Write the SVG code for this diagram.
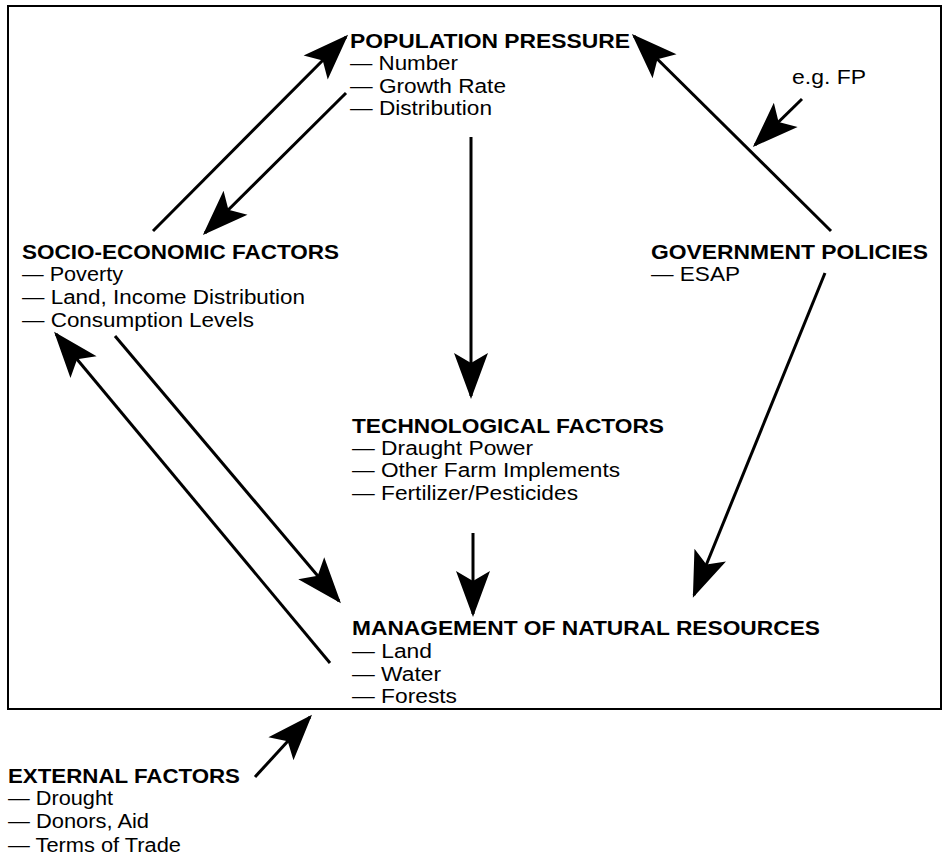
<svg xmlns="http://www.w3.org/2000/svg" width="943" height="857" viewBox="0 0 943 857">
<defs>
<marker id="ah" markerUnits="userSpaceOnUse" orient="auto" viewBox="-50 -20 56 40" markerWidth="56" markerHeight="40" refX="0" refY="0">
<path d="M3,0 L-43,-17 L-33,0 L-43,17 Z" fill="#000"/>
</marker>
</defs>
<style>
text{font-family:"Liberation Sans",Arial,sans-serif;fill:#000}
.h{font-size:21px;font-weight:bold}
.b{font-size:20px}
.c line{stroke:#000;stroke-width:3;marker-end:url(#ah)}
</style>
<rect width="943" height="857" fill="#fff"/>
<rect x="8" y="6" width="933" height="703" fill="none" stroke="#000" stroke-width="2"/>
<g id="population">
<text class="h" x="350" y="48" textLength="280" lengthAdjust="spacingAndGlyphs">POPULATION PRESSURE</text>
<text class="b" x="350" y="70" textLength="108" lengthAdjust="spacingAndGlyphs">— Number</text>
<text class="b" x="350" y="93" textLength="156" lengthAdjust="spacingAndGlyphs">— Growth Rate</text>
<text class="b" x="350" y="115" textLength="142" lengthAdjust="spacingAndGlyphs">— Distribution</text>
</g>
<g id="egfp">
<text class="b" x="792" y="84" textLength="74" lengthAdjust="spacingAndGlyphs">e.g. FP</text>
</g>
<g id="socio">
<text class="h" x="22" y="259" textLength="317" lengthAdjust="spacingAndGlyphs">SOCIO-ECONOMIC FACTORS</text>
<text class="b" x="22" y="281" textLength="101" lengthAdjust="spacingAndGlyphs">— Poverty</text>
<text class="b" x="22" y="304" textLength="283" lengthAdjust="spacingAndGlyphs">— Land, Income Distribution</text>
<text class="b" x="22" y="327" textLength="232" lengthAdjust="spacingAndGlyphs">— Consumption Levels</text>
</g>
<g id="government">
<text class="h" x="651" y="259" textLength="277" lengthAdjust="spacingAndGlyphs">GOVERNMENT POLICIES</text>
<text class="b" x="651" y="281" textLength="89" lengthAdjust="spacingAndGlyphs">— ESAP</text>
</g>
<g id="technological">
<text class="h" x="352" y="433" textLength="312" lengthAdjust="spacingAndGlyphs">TECHNOLOGICAL FACTORS</text>
<text class="b" x="352" y="455" textLength="181" lengthAdjust="spacingAndGlyphs">— Draught Power</text>
<text class="b" x="352" y="477" textLength="268" lengthAdjust="spacingAndGlyphs">— Other Farm Implements</text>
<text class="b" x="352" y="500" textLength="226" lengthAdjust="spacingAndGlyphs">— Fertilizer/Pesticides</text>
</g>
<g id="management">
<text class="h" x="352" y="635" textLength="468" lengthAdjust="spacingAndGlyphs">MANAGEMENT OF NATURAL RESOURCES</text>
<text class="b" x="352" y="658" textLength="80" lengthAdjust="spacingAndGlyphs">— Land</text>
<text class="b" x="352" y="681" textLength="89" lengthAdjust="spacingAndGlyphs">— Water</text>
<text class="b" x="352" y="703" textLength="105" lengthAdjust="spacingAndGlyphs">— Forests</text>
</g>
<g id="external">
<text class="h" x="8" y="783" textLength="232" lengthAdjust="spacingAndGlyphs">EXTERNAL FACTORS</text>
<text class="b" x="8" y="805" textLength="105" lengthAdjust="spacingAndGlyphs">— Drought</text>
<text class="b" x="8" y="828" textLength="141" lengthAdjust="spacingAndGlyphs">— Donors, Aid</text>
<text class="b" x="8" y="852" textLength="173" lengthAdjust="spacingAndGlyphs">— Terms of Trade</text>
</g>
<g id="connectors" class="c">
<line x1="153" y1="231" x2="346" y2="37"/>
<line x1="346" y1="93" x2="205" y2="233"/>
<line x1="471" y1="137" x2="471" y2="396"/>
<line x1="831" y1="231" x2="634" y2="36"/>
<line x1="802" y1="99" x2="755" y2="145"/>
<line x1="825" y1="273" x2="694" y2="595"/>
<line x1="115" y1="336" x2="339" y2="601"/>
<line x1="330" y1="663" x2="56" y2="334"/>
<line x1="473" y1="533" x2="473" y2="614"/>
<line x1="255" y1="777" x2="310" y2="717"/>
</g>
</svg>
